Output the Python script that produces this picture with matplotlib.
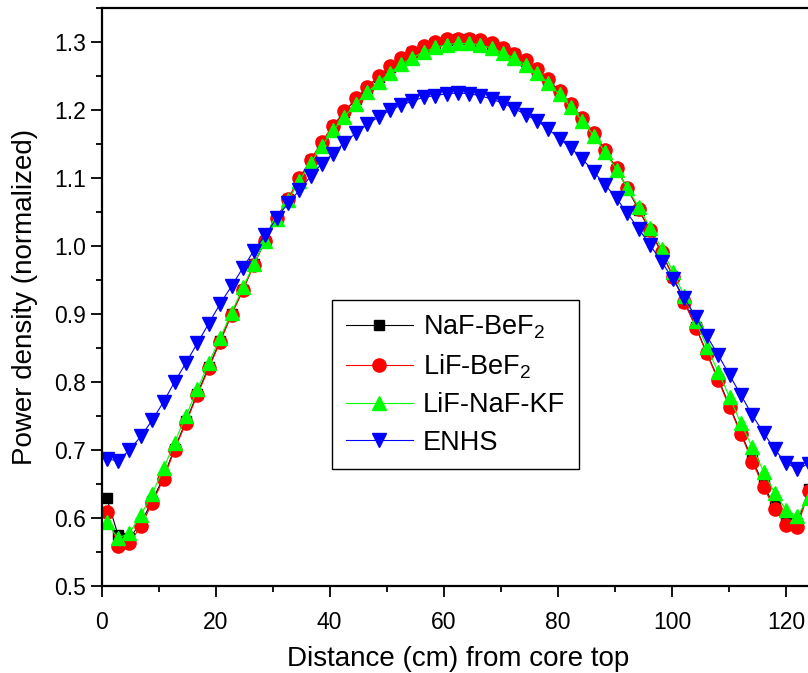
import numpy as np
import matplotlib.pyplot as plt
from matplotlib.ticker import MultipleLocator

plt.rcParams['font.family'] = ['Liberation Sans', 'DejaVu Sans']
plt.rcParams['mathtext.fontset'] = 'custom'
plt.rcParams['mathtext.rm'] = 'Liberation Sans'
plt.rcParams['mathtext.default'] = 'regular'

# distance from core top (cm)
dist = [0.9, 2.9, 4.9, 6.9, 8.9, 10.9, 12.8, 14.8, 16.8, 18.8,
        20.8, 22.8, 24.8, 26.7, 28.7, 30.7, 32.7, 34.7, 36.7, 38.6,
        40.6, 42.6, 44.6, 46.6, 48.6, 50.6, 52.5, 54.5, 56.5, 58.5,
        60.5, 62.5, 64.4, 66.4, 68.4, 70.4, 72.4, 74.4, 76.4, 78.3,
        80.3, 82.3, 84.3, 86.3, 88.3, 90.3, 92.2, 94.2, 96.2, 98.2,
        100.2, 102.2, 104.2, 106.1, 108.1, 110.1, 112.1, 114.1, 116.1, 118.0,
        120.0, 122.0, 124.0]

naf_bef2 = [0.630, 0.575, 0.570, 0.593, 0.625, 0.661, 0.702, 0.742, 0.783, 0.822,
            0.861, 0.900, 0.936, 0.973, 1.008, 1.041, 1.069, 1.099, 1.126, 1.152,
            1.176, 1.197, 1.216, 1.233, 1.249, 1.263, 1.275, 1.285, 1.293, 1.299,
            1.303, 1.304, 1.304, 1.302, 1.297, 1.290, 1.282, 1.272, 1.259, 1.244,
            1.227, 1.208, 1.187, 1.165, 1.140, 1.113, 1.084, 1.053, 1.022, 0.990,
            0.955, 0.918, 0.881, 0.843, 0.805, 0.765, 0.725, 0.686, 0.648, 0.617,
            0.595, 0.592, 0.642]

lif_bef2 = [0.609, 0.559, 0.563, 0.588, 0.622, 0.658, 0.700, 0.740, 0.781, 0.820,
            0.859, 0.899, 0.935, 0.972, 1.008, 1.041, 1.069, 1.100, 1.127, 1.153,
            1.177, 1.198, 1.217, 1.234, 1.250, 1.264, 1.276, 1.286, 1.294, 1.300,
            1.304, 1.305, 1.305, 1.303, 1.298, 1.291, 1.283, 1.273, 1.260, 1.245,
            1.228, 1.209, 1.188, 1.166, 1.141, 1.114, 1.085, 1.054, 1.023, 0.991,
            0.955, 0.917, 0.880, 0.842, 0.803, 0.763, 0.723, 0.683, 0.645, 0.613,
            0.590, 0.587, 0.639]

lif_naf_kf = [0.594, 0.570, 0.578, 0.604, 0.636, 0.673, 0.711, 0.750, 0.789, 0.828,
              0.865, 0.902, 0.939, 0.973, 1.008, 1.040, 1.067, 1.096, 1.122, 1.147,
              1.170, 1.190, 1.209, 1.226, 1.241, 1.255, 1.267, 1.277, 1.285, 1.292,
              1.296, 1.298, 1.298, 1.296, 1.291, 1.284, 1.276, 1.266, 1.254, 1.239,
              1.223, 1.204, 1.184, 1.162, 1.138, 1.112, 1.085, 1.057, 1.027, 0.996,
              0.962, 0.926, 0.889, 0.852, 0.815, 0.778, 0.739, 0.704, 0.668, 0.637,
              0.612, 0.603, 0.630]

enhs = [0.687, 0.684, 0.700, 0.720, 0.744, 0.771, 0.800, 0.828, 0.857, 0.886,
        0.915, 0.941, 0.968, 0.993, 1.016, 1.041, 1.063, 1.082, 1.103, 1.121,
        1.136, 1.152, 1.166, 1.179, 1.190, 1.200, 1.207, 1.213, 1.219, 1.221,
        1.224, 1.225, 1.224, 1.221, 1.216, 1.210, 1.202, 1.193, 1.184, 1.172,
        1.158, 1.144, 1.128, 1.109, 1.090, 1.070, 1.048, 1.025, 1.001, 0.977,
        0.951, 0.923, 0.896, 0.868, 0.840, 0.810, 0.781, 0.751, 0.725, 0.701,
        0.681, 0.672, 0.680]

fig = plt.figure(figsize=(8.08, 6.73), dpi=100)
# axes run a little past the right edge of the picture, like the original crop
ax = fig.add_axes([101.5/808, 87/673, 713/808, 578/673])

ax.plot(dist, naf_bef2, "ks-", lw=0.8, ms=7.5, label="NaF-BeF$_2$")
ax.plot(dist, lif_bef2, "o-", color="red", lw=0.8, ms=9.5, label="LiF-BeF$_2$")
ax.plot(dist, lif_naf_kf, "^-", color="#00ff00", lw=0.8, ms=10, label="LiF-NaF-KF")
ax.plot(dist, enhs, "v-", color="blue", lw=0.8, ms=10, label="ENHS")

ax.set_xlim(0, 125)
ax.set_ylim(0.5, 1.35)
ax.xaxis.set_major_locator(MultipleLocator(20))
ax.xaxis.set_minor_locator(MultipleLocator(10))
ax.yaxis.set_major_locator(MultipleLocator(0.1))
ax.yaxis.set_minor_locator(MultipleLocator(0.05))
ax.yaxis.set_major_formatter(plt.FormatStrFormatter("%.1f"))

for s in ax.spines.values():
    s.set_linewidth(1.6)
ax.tick_params(which="major", direction="out", length=8, width=1.3, labelsize=16.5)
ax.tick_params(axis="x", which="major", pad=10)
ax.tick_params(axis="y", which="major", pad=3)
ax.tick_params(which="minor", direction="out", length=4.5, width=1.3)

ax.set_xlabel("Distance (cm) from core top", fontsize=20, labelpad=9)
ax.set_ylabel("Power density (normalized)", fontsize=20, labelpad=12)

leg = ax.legend(loc="upper left", bbox_to_anchor=(332/808, 1-300/673),
                bbox_transform=fig.transFigure, borderaxespad=0, fontsize=19.5,
                fancybox=False, edgecolor="black", framealpha=1,
                handlelength=2.5, numpoints=1, labelspacing=0.42,
                borderpad=0.5, handletextpad=0.35)
leg.get_frame().set_linewidth(1.0)

plt.savefig("out.png", dpi=100)
